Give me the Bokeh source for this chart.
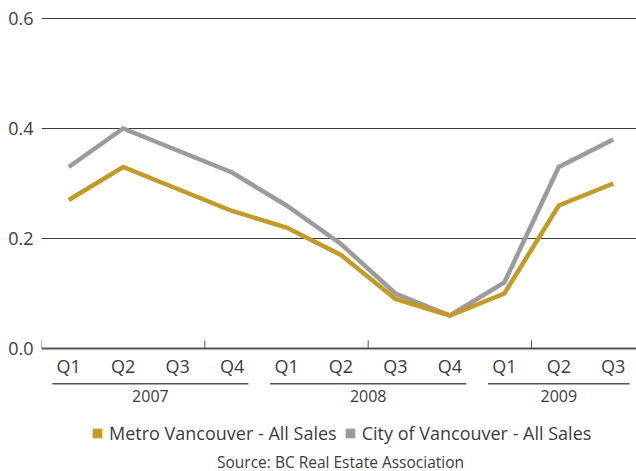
import numpy as np
from bokeh.plotting import figure
from bokeh.models import (FixedTicker, PrintfTickFormatter, Span, Label, Legend, LegendItem)
from bokeh.core.properties import value
from bokeh.embed import file_html
from bokeh.resources import INLINE

quarters = ["Q1", "Q2", "Q3", "Q4", "Q1", "Q2", "Q3", "Q4", "Q1", "Q2", "Q3"]
years = ["2007", "2008", "2009"]
year_sizes = [4, 4, 3]
metro = [0.27, 0.33, 0.29, 0.25, 0.22, 0.17, 0.09, 0.06, 0.10, 0.26, 0.30]
city = [0.33, 0.40, 0.36, 0.32, 0.26, 0.19, 0.10, 0.06, 0.12, 0.33, 0.38]
y_ticks = [0.0, 0.2, 0.4, 0.6]
series_names = ["Metro Vancouver - All Sales", "City of Vancouver - All Sales"]
source_text = "Source: BC Real Estate Association"

GOLD = "#C49A26"
GRAY = "#9B9B9E"
TEXT = "#3c3c3c"
FONT = "Open Sans"

W, H = 636, 471
LEFT = 41
CAT_PX = 54.45
ZERO_PX = 348
UNIT_PX = 550.0

n = len(quarters)
x = np.arange(n) + 0.5

x_end = (W - LEFT) / CAT_PX
y_end = ZERO_PX / UNIT_PX
y_start = -(H - ZERO_PX) / UNIT_PX

p = figure(width=W, height=H, output_backend="svg", toolbar_location=None,
           x_range=(0, x_end), y_range=(y_start, y_end),
           x_axis_location=None, min_border_left=LEFT, min_border_right=0,
           min_border_top=0, min_border_bottom=0)
p.outline_line_color = None
p.background_fill_color = "white"

ax = p.yaxis[0]
ax.ticker = FixedTicker(ticks=y_ticks)
ax.formatter = PrintfTickFormatter(format="%.1f")
ax.axis_line_color = None
ax.major_tick_line_color = None
ax.minor_tick_line_color = None
ax.major_tick_out = 0
ax.major_tick_in = 0
ax.minor_tick_out = 0
ax.major_label_text_font = FONT
ax.major_label_text_font_size = "18px"
ax.major_label_text_color = TEXT
ax.major_label_standoff = 8

p.xgrid.visible = False
p.ygrid.ticker = FixedTicker(ticks=y_ticks[1:])
p.ygrid.grid_line_color = "#3a3a3a"
p.ygrid.grid_line_width = 1

# baseline
p.add_layout(Span(location=0, dimension="width", line_color="#555555", line_width=2))
# small axis ticks every 3 categories
tick_x = np.arange(0, n, 3)
p.segment(x0=tick_x, y0=np.zeros(len(tick_x)), x1=tick_x, y1=np.full(len(tick_x), 0.015),
          line_color="#555555", line_width=1)

# series lines
p.line(x, city, line_color=GRAY, line_width=4.5, line_join="miter")
p.line(x, metro, line_color=GOLD, line_width=4.5, line_join="miter")

# quarter labels
p.text(x=x, y=np.full(n, -0.032), text=quarters, text_font=value(FONT), text_font_size="18px",
       text_color=TEXT, text_align="center", text_baseline="middle")

# year groups
starts = np.cumsum([0] + year_sizes[:-1])
ends = starts + np.array(year_sizes)
p.segment(x0=starts + 0.2, y0=np.full(len(years), -0.064), x1=ends - 0.2,
          y1=np.full(len(years), -0.064), line_color="#555555", line_width=1.5)
p.text(x=(starts + ends) / 2.0, y=np.full(len(years), -0.086), text=years,
       text_font=value(FONT), text_font_size="16px", text_color=TEXT,
       text_align="center", text_baseline="middle")

# legend (marker-only renderers with no visible points)
r1 = p.scatter(x=[np.nan], y=[np.nan], marker="square", size=9, fill_color=GOLD, line_color=GOLD)
r2 = p.scatter(x=[np.nan], y=[np.nan], marker="square", size=9, fill_color=GRAY, line_color=GRAY)
legend = Legend(items=[LegendItem(label=series_names[0], renderers=[r1]),
                       LegendItem(label=series_names[1], renderers=[r2])],
                orientation="horizontal", location=(45, 26),
                glyph_width=22, glyph_height=22, label_standoff=1, spacing=2,
                padding=0, margin=0, border_line_color=None, background_fill_alpha=0,
                label_text_font=FONT, label_text_font_size="18px", label_text_color=TEXT)
p.add_layout(legend)

p.add_layout(Label(x=(340 - LEFT) / CAT_PX, y=-(461 - ZERO_PX) / UNIT_PX, text=source_text,
                   text_font=FONT, text_font_size="15.5px", text_color=TEXT,
                   text_align="center", text_baseline="middle"))

open("out.html", "w").write(file_html(p, INLINE))
